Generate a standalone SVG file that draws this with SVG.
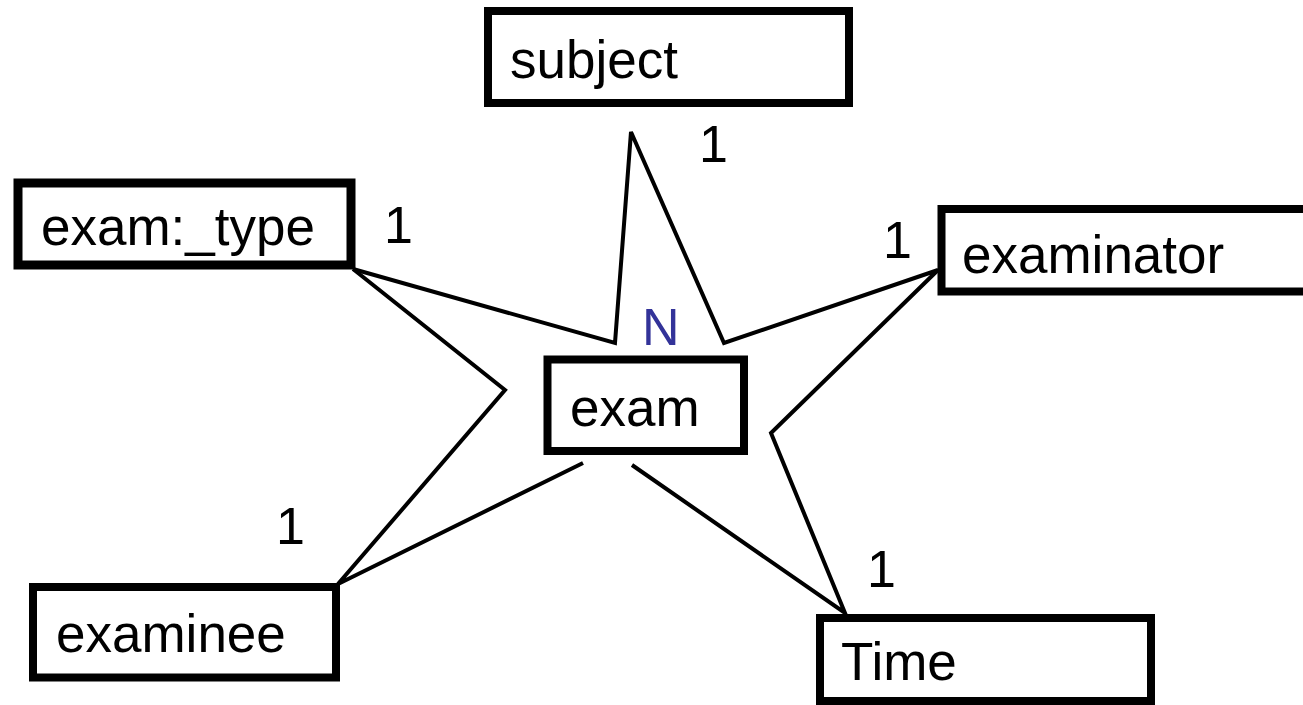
<svg xmlns="http://www.w3.org/2000/svg" width="1303" height="705" viewBox="0 0 1303 705">
  <style>
    .box { fill: #ffffff; stroke: #000000; stroke-width: 8; }
    .label { font-family: "Liberation Sans", Arial, sans-serif; font-size: 53px; fill: #000000; }
    .card { font-family: "Liberation Sans", Arial, sans-serif; font-size: 52px; fill: #000000; }
    .many { fill: #333399; }
    .link { fill: none; stroke: #000000; stroke-width: 4; stroke-linejoin: miter; }
  </style>
  <rect width="1303" height="705" fill="#ffffff"/>

  <!-- star-shaped connectors between exam and its related entities -->
  <g id="connectors">
    <path class="link" d="M353,269 L615,343 L631,132 L724,343 L938,270 L771,433 L845,613 L632,465"/>
    <path class="link" d="M583,463 L338,584 L505,390 L353,269"/>
  </g>

  <g id="subject">
    <rect class="box" x="488" y="11" width="361" height="92"/>
    <text class="label" x="510" y="78">subject</text>
  </g>

  <g id="exam_type">
    <rect class="box" x="18" y="183" width="333" height="82" style="stroke-width:9"/>
    <text class="label" x="41" y="245">exam:_type</text>
  </g>

  <g id="examinator">
    <rect class="box" x="941.5" y="209" width="380" height="82.5"/>
    <text class="label" x="962" y="273">examinator</text>
  </g>

  <g id="exam">
    <rect class="box" x="547.5" y="359.5" width="196.5" height="91.5"/>
    <text class="label" x="570" y="426">exam</text>
  </g>

  <g id="examinee">
    <rect class="box" x="33" y="587" width="303" height="90.5"/>
    <text class="label" x="56" y="652">examinee</text>
  </g>

  <g id="time">
    <rect class="box" x="820" y="618" width="331" height="83"/>
    <text class="label" x="841" y="680">Time</text>
  </g>

  <!-- cardinalities -->
  <g id="cardinalities">
    <text class="card many" x="642" y="345">N</text>
    <text class="card" x="699" y="162">1</text>
    <text class="card" x="384" y="243">1</text>
    <text class="card" x="883" y="258">1</text>
    <text class="card" x="276" y="544">1</text>
    <text class="card" x="867" y="587">1</text>
  </g>
</svg>
